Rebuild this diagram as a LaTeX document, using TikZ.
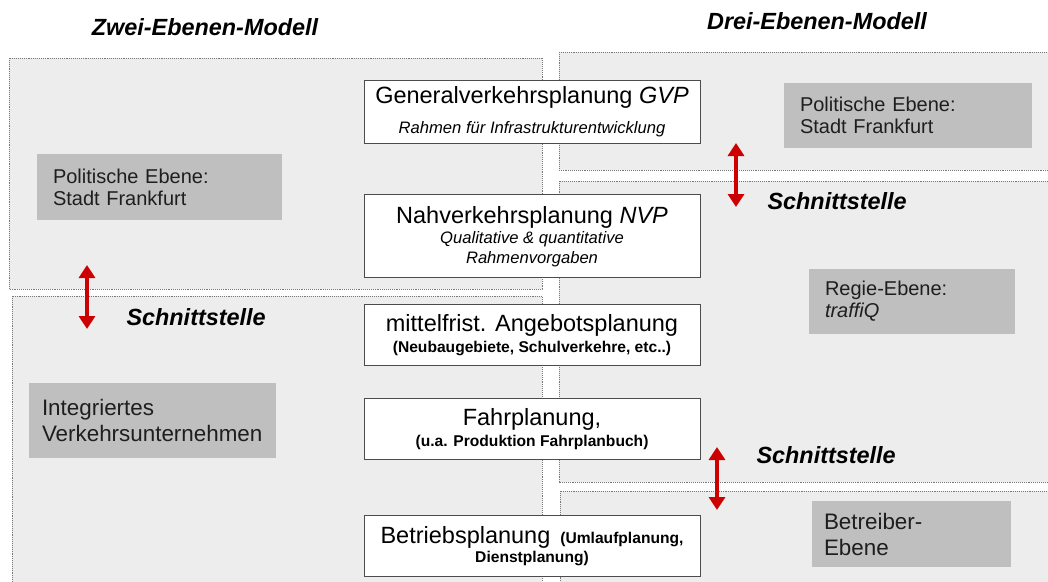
\documentclass[tikz,border=0pt]{standalone}
\usepackage{fontspec}
\setmainfont{Liberation Sans}
\usetikzlibrary{arrows.meta,positioning}

\definecolor{panelgrey}{RGB}{237,237,237}
\definecolor{boxgrey}{RGB}{191,191,191}
\definecolor{dotgrey}{RGB}{120,120,120}
\definecolor{arrowred}{RGB}{204,0,0}
\definecolor{textdark}{RGB}{30,30,30}

\newcommand{\headfont}{\fontsize{23.4}{27}\selectfont\bfseries\itshape}
\newcommand{\levelfont}{\fontsize{20}{22}\selectfont}
\newcommand{\levelbigfont}{\fontsize{22.4}{26}\selectfont}
\newcommand{\planfont}{\fontsize{23.5}{26}\selectfont}
\newcommand{\plansubfont}{\fontsize{16.6}{19}\selectfont\itshape}
\newcommand{\planremfont}{\fontsize{15.6}{18}\selectfont\bfseries}

\begin{document}
\begin{tikzpicture}[x=1pt,y=-1pt,
    panel/.style={fill=panelgrey,draw=dotgrey,densely dotted,line width=0.9pt},
    plan box/.style={draw=black!70,fill=white,line width=0.9pt,minimum width=336pt,align=center,inner sep=0pt},
    level box/.style={fill=boxgrey,text=textdark,align=left,inner xsep=16pt,inner ysep=0pt},
    head/.style={font=\headfont,anchor=base},
    iface/.style={font=\headfont,anchor=base west},
    iface arrow/.style={arrowred,line width=3.5pt,{Triangle[width=16pt,length=13pt]}-{Triangle[width=16pt,length=13pt]}}]

\useasboundingbox (0,0) rectangle (1048,581);
\clip (0,0) rectangle (1048,581);
\fill[white] (0,0) rectangle (1048,581);

% Zwei-Ebenen-Modell
\filldraw[panel] (9,58) rectangle (542,289);
\filldraw[panel] (12,296) rectangle (542,600);
% Drei-Ebenen-Modell
\filldraw[panel] (559,52) rectangle (1060,170);
\filldraw[panel] (559,181) rectangle (1060,482);
\filldraw[panel] (560,491) rectangle (1060,600);

\node[head] (zwei) at (205,35) {Zwei-Ebenen-Modell};
\node[head] (drei) at (817,29) {Drei-Ebenen-Modell};

\node[level box,minimum width=245pt,minimum height=66pt,text width=213pt,font=\levelfont] (polL) at (159.5,187) {Politische Ebene:\\Stadt Frankfurt};
\node[level box,minimum width=248pt,minimum height=65pt,text width=216pt,font=\levelfont] (polR) at (908,115.5) {Politische Ebene:\\Stadt Frankfurt};
\node[level box,minimum width=206pt,minimum height=65pt,text width=174pt,font=\levelfont] (regie) at (912,301.5) {Regie-Ebene:\\\textit{traffiQ}};
\node[level box,minimum width=247pt,minimum height=75pt,inner xsep=13pt,text width=221pt,font=\levelbigfont] (ivu) at (152.5,420.5) {Integriertes\\Verkehrsunternehmen};
\node[level box,minimum width=199pt,minimum height=66pt,inner xsep=12pt,text width=175pt,font=\levelbigfont] (betreiber) at (911.5,534) {Betreiber-\\Ebene};

\node[plan box,minimum height=63pt] (gvp) at (532,111.5)
    {\planfont Generalverkehrsplanung \textit{GVP}\\[12pt]\plansubfont Rahmen für Infrastrukturentwicklung};
\node[plan box,minimum height=83pt] (nvp) [below=51pt of gvp]
    {\planfont Nahverkehrsplanung \textit{NVP}\\[3pt]\plansubfont Qualitative \& quantitative\\[3pt]\plansubfont Rahmenvorgaben};
\node[plan box,minimum height=61pt] (ang) [below=26pt of nvp]
    {\planfont mittelfrist. Angebotsplanung\\[4pt]\planremfont (Neubaugebiete, Schulverkehre, etc..)};
\node[plan box,minimum height=61pt] (fahr) [below=32pt of ang]
    {\planfont Fahrplanung,\\[4pt]\planremfont (u.a. Produktion Fahrplanbuch)};
\node[plan box,minimum height=61pt] (betr) [below=55pt of fahr]
    {\planfont Betriebsplanung\hspace{10pt}{\planremfont (Umlaufplanung,}\\[2pt]\planremfont Dienstplanung)};

% Schnittstellen
\coordinate (if1a) at (87,265);
\coordinate (if1b) at (87,329);
\coordinate (if2a) at (736,143);
\coordinate (if2b) at (736,207);
\coordinate (if3a) at (717,447);
\coordinate (if3b) at (717,510);
\draw[iface arrow] (if1a) -- (if1b);
\draw[iface arrow] (if2a) -- (if2b);
\draw[iface arrow] (if3a) -- (if3b);

\node[iface] (sl) at (123,325) {Schnittstelle};
\node[iface] (sr1) at (764,209) {Schnittstelle};
\node[iface] (sr2) at (753,463) {Schnittstelle};
\end{tikzpicture}
\end{document}
